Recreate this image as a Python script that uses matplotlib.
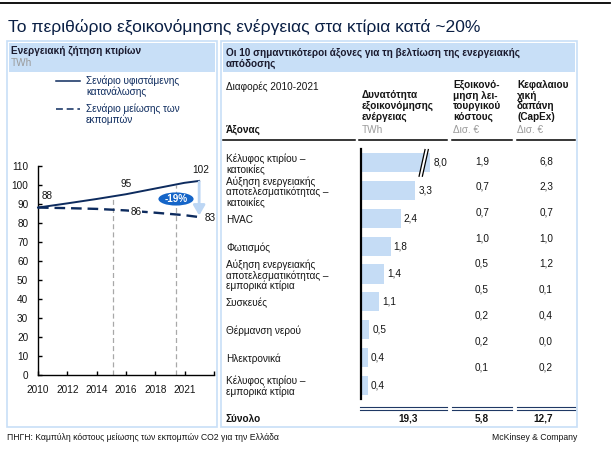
import numpy as np
import matplotlib
matplotlib.use('Agg')
import matplotlib.pyplot as plt
from matplotlib.patches import Rectangle, Ellipse, Polygon
from matplotlib.lines import Line2D
import matplotlib.transforms as mtransforms

plt.rcParams['font.family'] = ['Liberation Sans', 'DejaVu Sans']

# ---------------- data ----------------
title = "Το περιθώριο εξοικονόμησης ενέργειας στα κτίρια κατά ~20%"

years = [2010, 2012, 2014, 2016, 2018, 2020, 2021]
demand_base = [88, 90.2, 92.5, 95, 98, 101, 102]      # Σενάριο υφιστάμενης κατανάλωσης
demand_reduced = [88, 87.7, 87.3, 86.5, 85.3, 84, 83]  # Σενάριο μείωσης των εκπομπών
base_label_years = [2010, 2016, 2021]
base_label_values = [88, 95, 102]
red_label_years = [2016, 2021]
red_label_values = [86, 83]
marker_years = [2015.1, 2019.4]
xtick_pos = [2010, 2012, 2014, 2016, 2018, 2020, 2022]
xtick_labels = ['2010', '2012', '2014', '2016', '2018', '2021', '']
ytick_pos = list(range(0, 111, 10))

levers = ["Κέλυφος κτιρίου –\nκατοικίες",
          "Αύξηση ενεργειακής\nαποτελεσματικότητας –\nκατοικίες",
          "HVAC",
          "Φωτισμός",
          "Αύξηση ενεργειακής\nαποτελεσματικότητας –\nεμπορικά κτίρια",
          "Συσκευές",
          "Θέρμανση νερού",
          "Ηλεκτρονικά",
          "Κέλυφος κτιρίου –\nεμπορικά κτίρια"]
savings_twh = [8.0, 3.3, 2.4, 1.8, 1.4, 1.1, 0.5, 0.4, 0.4]
opex_bn = [1.9, 0.7, 0.7, 1.0, 0.5, 0.5, 0.2, 0.2, 0.1]
capex_bn = [6.8, 2.3, 0.7, 1.0, 1.2, 0.1, 0.4, 0.0, 0.2]

# ---------------- style ----------------
W, H = 613, 453
NAVY = '#0D2B5E'
LIGHT = '#C8DFF7'
BAR = '#C5DCF5'
TXT = '#141414'
GREY = '#9A9A9A'
FS = 7.2

fig = plt.figure(figsize=(W / 100, H / 100), dpi=100)


def fx(x):
    return x / W


def fy(y):
    return 1 - y / H


def T(x, y, s, **kw):
    kw.setdefault('va', 'center')
    kw.setdefault('fontsize', FS)
    kw.setdefault('color', TXT)
    return fig.text(fx(x), fy(y), s, **kw)


def rect_px(x0, y0, x1, y1, **kw):
    r = Rectangle((fx(x0), fy(y1)), (x1 - x0) / W, (y1 - y0) / H,
                  transform=fig.transFigure, **kw)
    fig.add_artist(r)
    return r


def line_px(x0, y0, x1, y1, **kw):
    l = Line2D([fx(x0), fx(x1)], [fy(y0), fy(y1)], transform=fig.transFigure, **kw)
    fig.add_artist(l)
    return l


def fmt(v):
    return f"{v:.1f}".replace('.', ',')


# top rule and title
line_px(0, 3, 610, 3, color='black', lw=1.3)
T(8, 27, title, fontsize=12.6, color='#0A1F44')

# panels
rect_px(6.5, 40.5, 216.5, 427, fill=False, ec=LIGHT, lw=1.2)
rect_px(220.5, 40.5, 576.5, 427, fill=False, ec=LIGHT, lw=1.2)
rect_px(8.5, 42.5, 214.5, 72, fc=LIGHT, ec='none')
rect_px(222.5, 42.5, 574.5, 72, fc=LIGHT, ec='none')

T(11, 51, "Ενεργειακή ζήτηση κτιρίων", fontweight='bold', color='#1A1A2E')
T(11, 63, "TWh", color=GREY)
T(226, 52.5, "Οι 10 σημαντικότεροι άξονες για τη βελτίωση της ενεργειακής",
  fontweight='bold', color='#1A1A2E')
T(226, 63.5, "απόδοσης", fontweight='bold', color='#1A1A2E')

# legend
line_px(56, 80.5, 80, 80.5, color=NAVY, lw=1.1)
T(86, 75.5, "Σενάριο υφιστάμενης\nκατανάλωσης", va='top', linespacing=1.1, color=NAVY)
line_px(56, 108.5, 80, 108.5, color=NAVY, lw=1.1, linestyle=(0, (4.5, 2.5)))
T(86, 103, "Σενάριο μείωσης των\nεκπομπών", va='top', linespacing=1.1, color=NAVY)

# ---------------- line chart ----------------
ax = fig.add_axes([fx(38), fy(375), (213.8 - 38) / W, (375 - 165.7) / H])
ax.set_facecolor('none')
ax.set_xlim(2010, 2022)
ax.set_ylim(0, 110)
for s in ['top', 'right']:
    ax.spines[s].set_visible(False)
for s in ['left', 'bottom']:
    ax.spines[s].set_linewidth(1.0)
    ax.spines[s].set_color('black')
ax.set_xticks(xtick_pos)
ax.set_xticklabels(xtick_labels)
ax.set_yticks(ytick_pos)
ax.tick_params(axis='both', direction='in', length=3, width=1, labelsize=FS,
               labelcolor=TXT)
ax.tick_params(axis='x', pad=7)
ax.tick_params(axis='y', pad=7)

tops = np.interp(marker_years, years, demand_base)
for yr, tp in zip(marker_years, tops):
    ax.plot([yr, yr], [0, tp], color='#A8A8A8', lw=0.9, linestyle=(0, (4, 2.5)), zorder=1)

ax.plot(years, demand_base, color=NAVY, lw=1.4, zorder=3, clip_on=False)
ax.plot(years, demand_reduced, color=NAVY, lw=1.7, linestyle=(0, (4.5, 2.5)),
        zorder=3, clip_on=False)

base_offsets = [(9, 12), (0, 10), (2, 11)]
for yr, v, off in zip(base_label_years, base_label_values, base_offsets):
    ax.annotate(str(v), (yr, v), xytext=off, textcoords='offset pixels',
                ha='center', va='center', fontsize=FS, color=TXT, zorder=5,
                annotation_clip=False)
red_offsets = [(10, -1), (11, -1)]
for i, (yr, v, off) in enumerate(zip(red_label_years, red_label_values, red_offsets)):
    bbox = dict(boxstyle='square,pad=0.1', fc='white', ec='none') if i == 0 else None
    ax.annotate(str(v), (yr, v), xytext=off, textcoords='offset pixels',
                ha='center', va='center', fontsize=FS, color=TXT, zorder=5,
                bbox=bbox, annotation_clip=False)

# change arrow and bubble
end_base, end_red = demand_base[-1], demand_reduced[-1]
change = round((end_red - end_base) / end_base * 100)
ax.annotate('', xy=(years[-1], end_red + 0.8), xytext=(years[-1], end_base - 0.5),
            arrowprops=dict(arrowstyle='-|>,head_width=0.35,head_length=0.6',
                            color='#BCD6F4', lw=2.0, shrinkA=0, shrinkB=0),
            zorder=4, annotation_clip=False)
ell = Ellipse((2019.42, 92.5), 2.4, 6.9, fc='#1565C8', ec='none', zorder=6)
ax.add_patch(ell)
ax.text(2019.42, 92.5, f"{change}%", ha='center', va='center', color='white',
        fontsize=FS, fontweight='bold', zorder=7)

# ---------------- table / bars ----------------
T(226, 87, "Διαφορές 2010-2021")
T(226, 130, "Άξονας", fontweight='bold')
T(362, 106, "Δυνατότητα\nεξοικονόμησης\nενέργειας", fontweight='bold', linespacing=1.05)
T(362, 130, "TWh", color=GREY)
T(453, 101, "Εξοικονό-\nμηση λει-\nτουργικού\nκόστους", fontweight='bold', linespacing=1.05)
T(453, 130, "Δισ. €", color=GREY)
T(517, 101, "Κεφαλαιου\nχική\nδαπάνη\n(CapEx)", fontweight='bold', linespacing=1.05)
T(517, 130, "Δισ. €", color=GREY)

for x0, x1 in [(223, 355), (359, 447), (452, 512), (517, 575)]:
    line_px(x0, 139.5, x1, 139.5, color='black', lw=1.1)

BAR_CAP = 4.2
bx = fig.add_axes([fx(361), fy(399), 82.5 / W, (399 - 149) / H])
bx.set_facecolor('none')
bx.set_xlim(0, 5)
bx.set_ylim(len(levers) - 0.5, -0.5)
for s in ['top', 'right', 'bottom']:
    bx.spines[s].set_visible(False)
bx.spines['left'].set_linewidth(1.6)
bx.spines['left'].set_color('black')
bx.set_xticks([])
bx.set_yticks([])

rows = np.arange(len(levers))
disp = [min(v, BAR_CAP) for v in savings_twh]
bx.barh(rows, disp, height=0.69, color=BAR, zorder=2)
for i, (v, d) in enumerate(zip(savings_twh, disp)):
    bx.annotate(fmt(v), (d, i), xytext=(3, 0), textcoords='offset pixels',
                ha='left', va='center', fontsize=FS, color=TXT, annotation_clip=False)

# break marks on truncated bars
for i, v in enumerate(savings_twh):
    if v > BAR_CAP:
        bxk, dx, gap, hh = 3.7, 0.18, 0.2, 0.48
        poly = Polygon([(bxk + dx, i - hh), (bxk + dx + gap, i - hh),
                        (bxk - dx + gap, i + hh), (bxk - dx, i + hh)],
                       closed=True, fc='white', ec='none', zorder=3, clip_on=False)
        bx.add_patch(poly)
        for off in (0, gap):
            bx.plot([bxk + dx + off, bxk - dx + off], [i - hh, i + hh],
                    color='black', lw=0.9, zorder=4, clip_on=False)

trans = mtransforms.blended_transform_factory(fig.transFigure, bx.transData)
for i, name in enumerate(levers):
    bx.text(fx(226), i + 0.05, name, transform=trans, ha='left', va='center',
            fontsize=FS, color=TXT, linespacing=1.02, clip_on=False)

OPEX_TOP, OPEX_STEP = 161, 25.75
for i, (o, c) in enumerate(zip(opex_bn, capex_bn)):
    T(489, OPEX_TOP + i * OPEX_STEP, fmt(o), ha='right')
    T(553, OPEX_TOP + i * OPEX_STEP, fmt(c), ha='right')

for x0, x1 in [(360, 447), (452, 512), (517, 575)]:
    line_px(x0, 407.2, x1, 407.2, color='#1F3864', lw=0.8)
    line_px(x0, 409.6, x1, 409.6, color='#1F3864', lw=0.8)

T(226, 418.5, "Σύνολο", fontweight='bold')
T(408, 418.5, fmt(sum(savings_twh)), fontweight='bold', ha='center')
T(489, 418.5, fmt(sum(opex_bn)), fontweight='bold', ha='right')
T(553, 418.5, fmt(sum(capex_bn)), fontweight='bold', ha='right')

# footer
T(7, 437, "ΠΗΓΗ: Καμπύλη κόστους μείωσης των εκπομπών CO2 για την Ελλάδα", fontsize=6.2)
T(577, 437, "McKinsey & Company", fontsize=6.2, ha='right')

fig.savefig('out.png', dpi=100)
